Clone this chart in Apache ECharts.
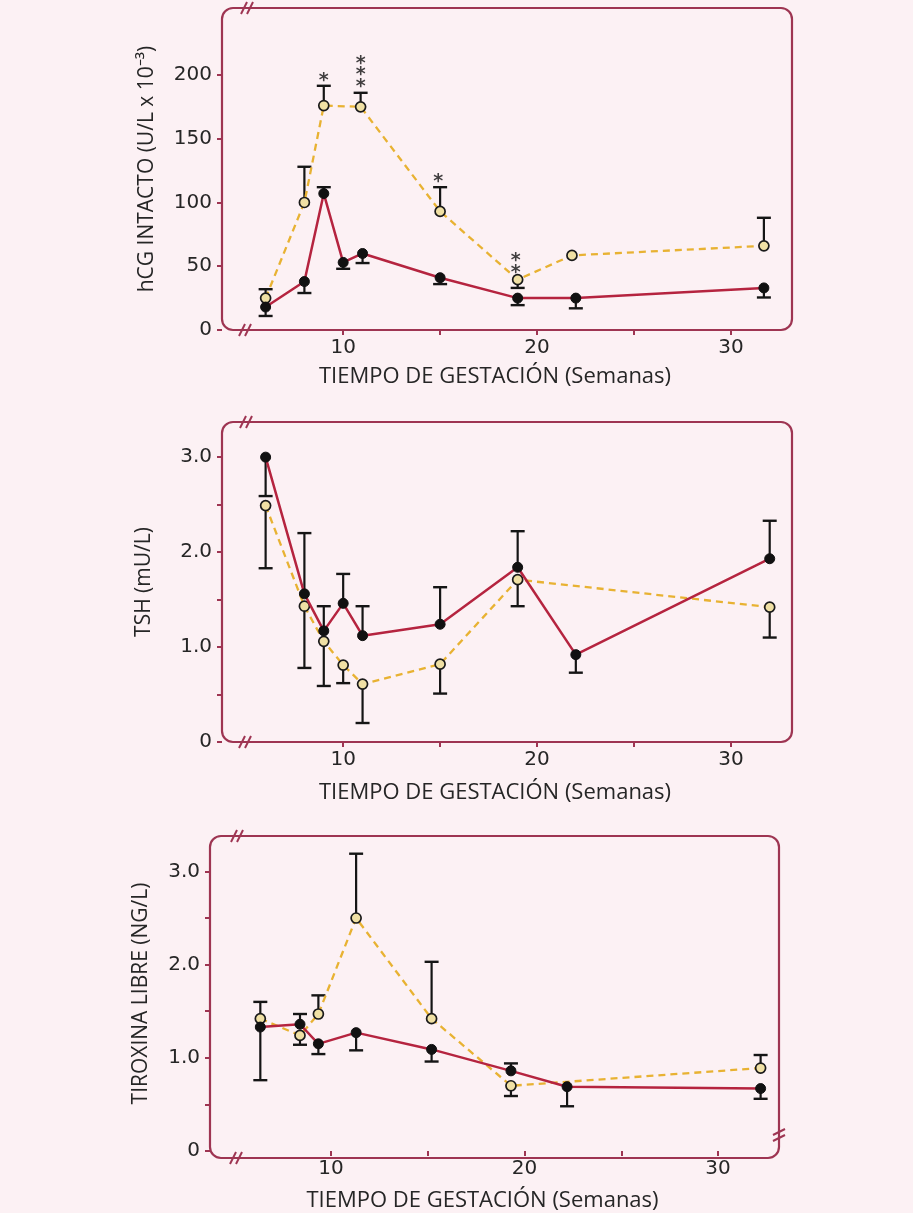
<!DOCTYPE html>
<html>
<head>
<meta charset="utf-8">
<script src="https://cdn.jsdelivr.net/npm/echarts@6/dist/echarts.min.js"></script>
<style>
  html, body { margin: 0; padding: 0; background: #fcf1f4; }
  #chart { width: 913px; height: 1213px; }
</style>
</head>
<body>
<div id="chart"></div>
<script>
// --- hCG intacto (U/L x 10^-3) ---
var hcgWeeksA = [6, 8, 9, 10, 11, 15, 19, 22, 31.7];
var hcgMeanA  = [18, 38, 107, 53, 60, 41, 25, 25, 33];
var hcgErrA   = [11, 29, 112, 48, 52.5, 36, 19.5, 17, 25.5];
var hcgWeeksB = [6, 8, 9, 10.9, 15, 19, 21.8, 31.7];
var hcgMeanB  = [25, 100, 176, 175, 93, 39.5, 58.5, 66];
var hcgErrB   = [32, 128, 191.5, 186, 112, 33, null, 88];
var starWeeks = [9, 10.9, 10.9, 10.9, 14.9, 18.9, 18.9];
var starVals  = [198, 194, 203, 212, 119, 48, 57];

// --- TSH (mU/L) ---
var tshWeeksA = [6, 8, 9, 10, 11, 15, 19, 22, 32];
var tshMeanA  = [3.0, 1.56, 1.17, 1.46, 1.12, 1.24, 1.84, 0.92, 1.93];
var tshErrA   = [2.59, 2.2, 1.43, 1.77, 1.43, 1.63, 2.22, 0.73, 2.33];
var tshWeeksB = [6, 8, 9, 10, 11, 15, 19, 32];
var tshMeanB  = [2.49, 1.43, 1.06, 0.81, 0.61, 0.82, 1.71, 1.42];
var tshErrB   = [1.83, 0.78, 0.59, 0.62, 0.20, 0.51, 1.43, 1.10];

// --- Tiroxina libre (NG/L) ---
var t4WeeksA = [6.35, 8.4, 9.35, 11.3, 15.2, 19.3, 22.2, 32.2];
var t4MeanA  = [1.33, 1.36, 1.15, 1.27, 1.09, 0.86, 0.69, 0.67];
var t4ErrA   = [0.76, 1.47, 1.04, 1.08, 0.96, 0.94, 0.48, 0.56];
var t4WeeksB = [6.35, 8.4, 9.35, 11.3, 15.2, 19.3, 32.2];
var t4MeanB  = [1.42, 1.24, 1.47, 2.5, 1.42, 0.70, 0.89];
var t4ErrB   = [1.60, 1.14, 1.67, 3.19, 2.03, 0.59, 1.03];

var xTicks = [10, 15, 20, 25, 30];
var xLabels = [10, 20, 30];
var hcgTicks = [0, 50, 100, 150, 200];
var thyTicks = [0, 0.5, 1, 1.5, 2, 2.5, 3];
var thyLabels = [0, 1, 2, 3];

var FONT = 'Open Sans';
var NUMFONT = 'DejaVu Sans';
var FRAME = '#9e3552';
var RED = '#b5243f';
var GOLD = '#e8b232';
var BG = '#fcf1f4';
var TXT = '#262626';

// panel boxes: left, top, right edge, bottom edge
var boxes = [
  {l: 222, t: 8,   r: 792, b: 330},
  {l: 222, t: 422, r: 792, b: 742},
  {l: 210, t: 836, r: 779, b: 1158}
];

function pairs(w, v) {
  return w.map(function (x, i) { return [x, v[i]]; });
}
function errs(w, v, e) {
  var out = [];
  w.forEach(function (x, i) { if (e[i] != null) out.push([x, v[i], e[i]]); });
  return out;
}

function errItem(params, api) {
  var p1 = api.coord([api.value(0), api.value(1)]);
  var p2 = api.coord([api.value(0), api.value(2)]);
  return {
    type: 'group',
    children: [
      {type: 'line', shape: {x1: p1[0], y1: p1[1], x2: p2[0], y2: p2[1]}, style: {stroke: '#151515', lineWidth: 2.2}},
      {type: 'line', shape: {x1: p2[0] - 7, y1: p2[1], x2: p2[0] + 7, y2: p2[1]}, style: {stroke: '#151515', lineWidth: 2.4}}
    ]
  };
}

var grids = [], xAxes = [], yAxes = [], series = [], graphics = [];

var yNames = ['hCG INTACTO (U/L x 10\u207B\u00B3)', 'TSH (mU/L)', 'TIROXINA LIBRE (NG/L)'];
var yMax = [252.5, 3.37, 3.38];
var yTickSets = [hcgTicks, thyTicks, thyTicks];
var yLabelSets = [hcgTicks, thyLabels, thyLabels];
var xNameGaps = [36, 40, 39];
var yNameGaps = [64, 67, 58];

boxes.forEach(function (b, i) {
  grids.push({left: b.l, top: b.t, width: b.r - b.l, height: b.b - b.t});
  xAxes.push({
    type: 'value', gridIndex: i, min: 3.75, max: 33.15,
    name: 'TIEMPO DE GESTACIÓN (Semanas)', nameLocation: 'middle', nameGap: xNameGaps[i],
    nameTextStyle: {fontFamily: FONT, fontSize: 22, color: TXT, padding: [0, 24, 0, 0]},
    axisLine: {show: false},
    axisTick: {show: true, customValues: xTicks, length: 5, lineStyle: {color: FRAME, width: 2}},
    axisLabel: {customValues: xLabels, margin: 8, fontFamily: NUMFONT, fontSize: 20, color: TXT},
    splitLine: {show: false}
  });
  yAxes.push({
    type: 'value', gridIndex: i, min: 0, max: yMax[i],
    name: yNames[i], nameLocation: 'middle', nameGap: yNameGaps[i],
    nameTextStyle: {fontFamily: FONT, fontSize: 21, color: TXT},
    axisLine: {show: false},
    axisTick: {show: true, customValues: yTickSets[i], length: 5, lineStyle: {color: FRAME, width: 2}},
    axisLabel: {
      customValues: yLabelSets[i], margin: 10, fontFamily: NUMFONT, fontSize: 20, color: TXT,
      formatter: function (v) { return i === 0 || v === 0 ? String(v) : v.toFixed(1); }
    },
    splitLine: {show: false}
  });
  graphics.push({
    type: 'rect', z: 1,
    shape: {x: b.l, y: b.t, width: b.r - b.l, height: b.b - b.t, r: 11},
    style: {fill: 'none', stroke: FRAME, lineWidth: 2.2}
  });
});

// axis-break marks on the frame
function breakMark(x, y, vertical) {
  var kids = [];
  [-3, 3].forEach(function (d) {
    if (vertical) {
      kids.push({type: 'line', shape: {x1: x - 6, y1: y + d + 3, x2: x + 6, y2: y + d - 3}, style: {stroke: FRAME, lineWidth: 2}});
    } else {
      kids.push({type: 'line', shape: {x1: x + d - 3, y1: y + 6, x2: x + d + 3, y2: y - 6}, style: {stroke: FRAME, lineWidth: 2}});
    }
  });
  return {type: 'group', z: 5, children: kids};
}
graphics.push(breakMark(247, 8), breakMark(245, 330));
graphics.push(breakMark(246, 422), breakMark(245, 742));
graphics.push(breakMark(237, 836), breakMark(236, 1158));
graphics.push(breakMark(779, 1135, true));

var sets = [
  [hcgWeeksA, hcgMeanA, hcgErrA, hcgWeeksB, hcgMeanB, hcgErrB],
  [tshWeeksA, tshMeanA, tshErrA, tshWeeksB, tshMeanB, tshErrB],
  [t4WeeksA, t4MeanA, t4ErrA, t4WeeksB, t4MeanB, t4ErrB]
];

sets.forEach(function (s, i) {
  series.push({
    type: 'custom', xAxisIndex: i, yAxisIndex: i, z: 2,
    renderItem: errItem, data: errs(s[0], s[1], s[2])
  });
  series.push({
    type: 'custom', xAxisIndex: i, yAxisIndex: i, z: 2,
    renderItem: errItem, data: errs(s[3], s[4], s[5])
  });
  series.push({
    type: 'line', xAxisIndex: i, yAxisIndex: i, z: 3,
    data: pairs(s[3], s[4]),
    lineStyle: {color: GOLD, width: 2.3, type: [7, 5]},
    symbol: 'circle', symbolSize: 10,
    itemStyle: {color: '#f0e0a4', borderColor: '#1a1a1a', borderWidth: 1.7}
  });
  series.push({
    type: 'line', xAxisIndex: i, yAxisIndex: i, z: 4,
    data: pairs(s[0], s[1]),
    lineStyle: {color: RED, width: 2.5},
    symbol: 'circle', symbolSize: 10,
    itemStyle: {color: '#111', borderColor: '#111', borderWidth: 1}
  });
});

series.push({
  type: 'scatter', xAxisIndex: 0, yAxisIndex: 0, z: 5,
  symbolSize: 1, itemStyle: {color: 'rgba(0,0,0,0)'},
  data: pairs(starWeeks, starVals),
  label: {show: true, position: 'inside', formatter: '*', fontFamily: NUMFONT, fontSize: 19, fontWeight: 'bold', color: '#111', offset: [0, 4]}
});

var chart = echarts.init(document.getElementById('chart'), null, {renderer: 'canvas'});
chart.setOption({
  backgroundColor: BG,
  animation: false,
  grid: grids,
  xAxis: xAxes,
  yAxis: yAxes,
  series: series,
  graphic: graphics
});
</script>
</body>
</html>
